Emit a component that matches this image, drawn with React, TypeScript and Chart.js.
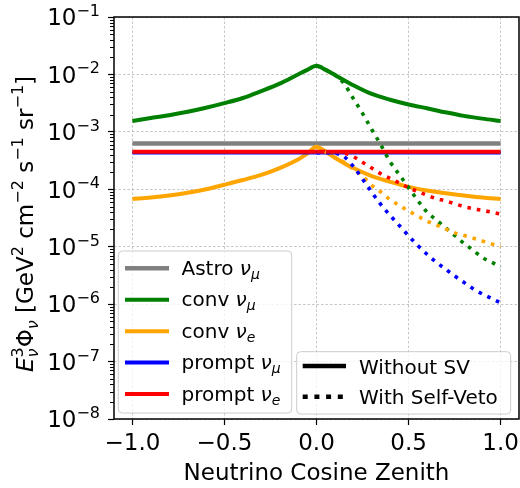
import React, { useEffect, useRef } from "react";
import { Chart, registerables } from "chart.js";
Chart.register(...registerables);

// ---------- data ----------
const xFull = [-1, -0.9, -0.8, -0.7, -0.6, -0.5, -0.4, -0.3, -0.2, -0.1, -0.05, 0, 0.05, 0.1, 0.2, 0.3, 0.4, 0.5, 0.6, 0.7, 0.8, 0.9, 1];
const convNuMu = [1.55e-3, 1.74e-3, 1.95e-3, 2.24e-3, 2.63e-3, 3.16e-3, 3.89e-3, 5.13e-3, 6.92e-3, 1.0e-2, 1.2e-2, 1.41e-2, 1.2e-2, 9.8e-3, 6.46e-3, 4.57e-3, 3.63e-3, 3.0e-3, 2.57e-3, 2.19e-3, 1.9e-3, 1.7e-3, 1.55e-3];
const convNuE = [6.8e-5, 7.2e-5, 7.8e-5, 8.7e-5, 1.0e-4, 1.2e-4, 1.45e-4, 1.78e-4, 2.34e-4, 3.3e-4, 4.2e-4, 5.5e-4, 4.5e-4, 3.55e-4, 2.34e-4, 1.7e-4, 1.35e-4, 1.1e-4, 9.5e-5, 8.5e-5, 7.8e-5, 7.2e-5, 6.8e-5];

const xFlat = [-1, 1];
const astroNuMu = [6.3e-4, 6.3e-4];
const promptNuMu = [4.35e-4, 4.35e-4];
const promptNuE = [4.5e-4, 4.5e-4];

const xVeto = [0, 0.05, 0.1, 0.15, 0.2, 0.25, 0.3, 0.35, 0.4, 0.45, 0.5, 0.55, 0.6, 0.65, 0.7, 0.75, 0.8, 0.85, 0.9, 0.95, 1];
const convNuMuVeto = [1.41e-2, 1.2e-2, 9.8e-3, 6.9e-3, 3.8e-3, 2.1e-3, 1.1e-3, 5.9e-4, 3.0e-4, 1.8e-4, 1.07e-4, 6.4e-5, 4.0e-5, 2.95e-5, 2.14e-5, 1.58e-5, 1.15e-5, 8.7e-6, 6.5e-6, 5.4e-6, 4.4e-6];
const convNuEVeto = [5.5e-4, 4.5e-4, 3.55e-4, 2.95e-4, 2.24e-4, 1.7e-4, 1.17e-4, 8.9e-5, 6.6e-5, 5.2e-5, 4.2e-5, 3.4e-5, 2.8e-5, 2.4e-5, 2.04e-5, 1.74e-5, 1.58e-5, 1.41e-5, 1.26e-5, 1.12e-5, 1.0e-5];
const promptNuMuVeto = [4.35e-4, 4.35e-4, 4.25e-4, 3.7e-4, 2.5e-4, 1.51e-4, 8.9e-5, 5.4e-5, 3.5e-5, 2.34e-5, 1.55e-5, 1.05e-5, 7.4e-6, 5.4e-6, 4.1e-6, 3.1e-6, 2.4e-6, 1.86e-6, 1.51e-6, 1.26e-6, 1.05e-6];
const promptNuEVeto = [4.5e-4, 4.5e-4, 4.5e-4, 4.3e-4, 3.7e-4, 2.95e-4, 2.34e-4, 1.86e-4, 1.55e-4, 1.29e-4, 1.07e-4, 9.1e-5, 7.9e-5, 6.9e-5, 6.3e-5, 5.6e-5, 5.0e-5, 4.6e-5, 4.3e-5, 4.0e-5, 3.7e-5];

const xTicks = [-1, -0.5, 0, 0.5, 1];
const xTickLabels = ["\u22121.0", "\u22120.5", "0.0", "0.5", "1.0"];
const yTickExps = [-8, -7, -6, -5, -4, -3, -2, -1];
const minorMultipliers = [2, 3, 4, 5, 6, 7, 8, 9];

const FONT = '"DejaVu Sans", sans-serif';
const MINUS = "\u2212";

type Part = { t: string; size: number; italic?: boolean; dy?: number; noAdv?: boolean };

function fontOf(p: Part) {
  return `${p.italic ? "italic " : ""}${p.size}px ${FONT}`;
}
function partsWidth(ctx: CanvasRenderingContext2D, parts: Part[]) {
  let w = 0;
  let pending = 0;
  for (const p of parts) {
    ctx.font = fontOf(p);
    const pw = ctx.measureText(p.t).width;
    if (p.noAdv) pending = pw;
    else {
      w += Math.max(pw, pending);
      pending = 0;
    }
  }
  return w;
}
function drawParts(ctx: CanvasRenderingContext2D, parts: Part[], x: number, y: number) {
  let cx = x;
  let pending = 0;
  ctx.textAlign = "left";
  ctx.textBaseline = "alphabetic";
  for (const p of parts) {
    ctx.font = fontOf(p);
    const pw = ctx.measureText(p.t).width;
    ctx.fillText(p.t, cx, y + (p.dy || 0));
    if (p.noAdv) pending = pw;
    else {
      cx += Math.max(pw, pending);
      pending = 0;
    }
  }
}

const legendMain: { label: Part[]; color: string; width: number }[] = [
  { label: [{ t: "Astro ", size: 20 }, { t: "ν", size: 20, italic: true }, { t: "μ", size: 14, italic: true, dy: 4 }], color: "#808080", width: 4.5 },
  { label: [{ t: "conv ", size: 20 }, { t: "ν", size: 20, italic: true }, { t: "μ", size: 14, italic: true, dy: 4 }], color: "#008000", width: 4 },
  { label: [{ t: "conv ", size: 20 }, { t: "ν", size: 20, italic: true }, { t: "e", size: 14, italic: true, dy: 4 }], color: "#FFA500", width: 4 },
  { label: [{ t: "prompt ", size: 20 }, { t: "ν", size: 20, italic: true }, { t: "μ", size: 14, italic: true, dy: 4 }], color: "#0000FF", width: 4 },
  { label: [{ t: "prompt ", size: 20 }, { t: "ν", size: 20, italic: true }, { t: "e", size: 14, italic: true, dy: 4 }], color: "#FF0000", width: 4 },
];

function roundBox(ctx: CanvasRenderingContext2D, x: number, y: number, w: number, h: number, r: number) {
  ctx.beginPath();
  ctx.moveTo(x + r, y);
  ctx.lineTo(x + w - r, y);
  ctx.arcTo(x + w, y, x + w, y + r, r);
  ctx.lineTo(x + w, y + h - r);
  ctx.arcTo(x + w, y + h, x + w - r, y + h, r);
  ctx.lineTo(x + r, y + h);
  ctx.arcTo(x, y + h, x, y + h - r, r);
  ctx.lineTo(x, y + r);
  ctx.arcTo(x, y, x + r, y, r);
  ctx.closePath();
}

const overlayPlugin = {
  id: "overlay",
  afterDraw(chart: any) {
    const ctx: CanvasRenderingContext2D = chart.ctx;
    const { left, right, top, bottom } = chart.chartArea;
    const xs = chart.scales.x;
    const ys = chart.scales.y;
    ctx.save();

    // legend 1
    ctx.fillStyle = "rgba(255,255,255,0.8)";
    ctx.strokeStyle = "#cccccc";
    ctx.lineWidth = 1;
    roundBox(ctx, left + 4.3, 251, 173.4, bottom - 6 - 251, 4);
    ctx.fill();
    ctx.stroke();
    const rows1 = [268.3, 299.8, 331.2, 362.6, 394];
    legendMain.forEach((e, i) => {
      ctx.strokeStyle = e.color;
      ctx.lineWidth = e.width;
      ctx.setLineDash([]);
      ctx.beginPath();
      ctx.moveTo(left + 11, rows1[i]);
      ctx.lineTo(left + 55, rows1[i]);
      ctx.stroke();
      ctx.fillStyle = "#000";
      drawParts(ctx, e.label, left + 67.5, rows1[i] + 6.5);
    });

    // legend 2
    ctx.fillStyle = "rgba(255,255,255,0.8)";
    ctx.strokeStyle = "#cccccc";
    ctx.lineWidth = 1;
    roundBox(ctx, right - 222.3, 351.7, 214, bottom - 5 - 351.7, 4);
    ctx.fill();
    ctx.stroke();
    const rows2 = [366, 396.7];
    ctx.strokeStyle = "#000";
    ctx.lineWidth = 4.5;
    ctx.beginPath();
    ctx.moveTo(right - 216.3, rows2[0]);
    ctx.lineTo(right - 173, rows2[0]);
    ctx.stroke();
    ctx.setLineDash([5, 6.7]);
    ctx.beginPath();
    ctx.moveTo(right - 216.3, rows2[1]);
    ctx.lineTo(right - 173, rows2[1]);
    ctx.stroke();
    ctx.setLineDash([]);
    ctx.fillStyle = "#000";
    drawParts(ctx, [{ t: "Without SV", size: 20 }], right - 160, rows2[0] + 7.5);
    drawParts(ctx, [{ t: "With Self-Veto", size: 20 }], right - 160, rows2[1] + 7.5);

    // frame
    ctx.strokeStyle = "#000";
    ctx.lineWidth = 1.5;
    ctx.strokeRect(left, top, right - left, bottom - top);

    // minor ticks
    ctx.lineWidth = 1;
    ctx.beginPath();
    for (let n = -8; n <= -2; n++) {
      for (const k of minorMultipliers) {
        const py = Math.round(ys.getPixelForValue(k * Math.pow(10, n))) + 0.5;
        ctx.moveTo(left - 4, py);
        ctx.lineTo(left, py);
      }
    }
    ctx.stroke();

    // y tick labels
    ctx.fillStyle = "#000";
    for (const e of yTickExps) {
      const py = ys.getPixelForValue(Math.pow(10, e));
      const parts: Part[] = [
        { t: "10", size: 23 },
        { t: MINUS + String(-e), size: 16, dy: -9.3 },
      ];
      const w = partsWidth(ctx, parts);
      drawParts(ctx, parts, 100 - w, py + 8.3);
    }

    // x tick labels
    ctx.font = `23px ${FONT}`;
    ctx.textAlign = "center";
    ctx.textBaseline = "alphabetic";
    xTicks.forEach((v, i) => {
      ctx.fillText(xTickLabels[i], xs.getPixelForValue(v), 449.5);
    });

    // x title
    ctx.fillText("Neutrino Cosine Zenith", (left + right) / 2, 480);

    // y title
    const yt: Part[] = [
      { t: "E", size: 23, italic: true },
      { t: "3", size: 16, dy: -10, noAdv: true },
      { t: "ν", size: 16, italic: true, dy: 5 },
      { t: "Φ", size: 23 },
      { t: "ν", size: 16, italic: true, dy: 5 },
      { t: " [GeV", size: 23 },
      { t: "2", size: 16, dy: -10 },
      { t: " cm", size: 23 },
      { t: MINUS + "2", size: 16, dy: -10 },
      { t: " s", size: 23 },
      { t: MINUS + "1", size: 16, dy: -10 },
      { t: " sr", size: 23 },
      { t: MINUS + "1", size: 16, dy: -10 },
      { t: "]", size: 23 },
    ];
    const tw = partsWidth(ctx, yt);
    ctx.translate(33, 224);
    ctx.rotate(-Math.PI / 2);
    drawParts(ctx, yt, -tw / 2, 0);
    ctx.restore();
  },
};

function mk(xv: number[], yv: number[], color: string, dotted: boolean, width: number) {
  return {
    data: xv.map((x, i) => ({ x, y: yv[i] })),
    borderColor: color,
    backgroundColor: color,
    borderWidth: width,
    borderDash: dotted ? [3.6, 6] : [],
    pointRadius: 0,
    fill: false,
    cubicInterpolationMode: "monotone" as const,
  };
}

export default function App() {
  const ref = useRef<HTMLCanvasElement>(null);
  useEffect(() => {
    if (!ref.current) return;
    const list = [
      mk(xFlat, astroNuMu, "#808080", false, 4.5),
      mk(xFull, convNuMu, "#008000", false, 4),
      mk(xFull, convNuE, "#FFA500", false, 4),
      mk(xFlat, promptNuMu, "#0000FF", false, 4),
      mk(xFlat, promptNuE, "#FF0000", false, 4),
      mk(xVeto, convNuMuVeto, "#008000", true, 3.6),
      mk(xVeto, convNuEVeto, "#FFA500", true, 3.6),
      mk(xVeto, promptNuMuVeto, "#0000FF", true, 3.6),
      mk(xVeto, promptNuEVeto, "#FF0000", true, 3.6),
    ];
    const datasets = list.map((d, i) => ({ ...d, order: list.length - i }));
    const gridCommon = {
      color: "rgba(176,176,176,0.9)",
      lineWidth: 0.8,
      drawTicks: true,
      tickLength: 6,
      tickColor: "#000",
      tickWidth: 1.2,
    };
    const chart = new Chart(ref.current, {
      type: "line",
      data: { datasets: datasets as any },
      options: {
        responsive: false,
        animation: false,
        devicePixelRatio: 1,
        layout: { padding: { left: 0, right: 1, top: 17, bottom: 0 } },
        plugins: { legend: { display: false }, tooltip: { enabled: false } },
        elements: { point: { radius: 0 } },
        scales: {
          x: {
            type: "linear",
            min: -1.1,
            max: 1.1,
            afterBuildTicks: (s: any) => {
              s.ticks = xTicks.map((v) => ({ value: v }));
            },
            afterFit: (s: any) => {
              s.height = 69;
            },
            ticks: { display: false },
            grid: gridCommon,
            border: { display: false, dash: [2.5, 2] },
          },
          y: {
            type: "logarithmic",
            min: 1e-8,
            max: 1e-1,
            afterBuildTicks: (s: any) => {
              s.ticks = yTickExps.map((e) => ({ value: Math.pow(10, e) }));
            },
            afterFit: (s: any) => {
              s.width = 114;
            },
            ticks: { display: false },
            grid: gridCommon,
            border: { display: false, dash: [2.5, 2] },
          },
        },
      } as any,
      plugins: [overlayPlugin],
    });
    return () => chart.destroy();
  }, []);
  return (
    <div style={{ position: "fixed", left: 0, top: 0, width: 520, height: 488, background: "#fff" }}>
      <canvas ref={ref} width={520} height={488} style={{ display: "block" }} />
    </div>
  );
}
